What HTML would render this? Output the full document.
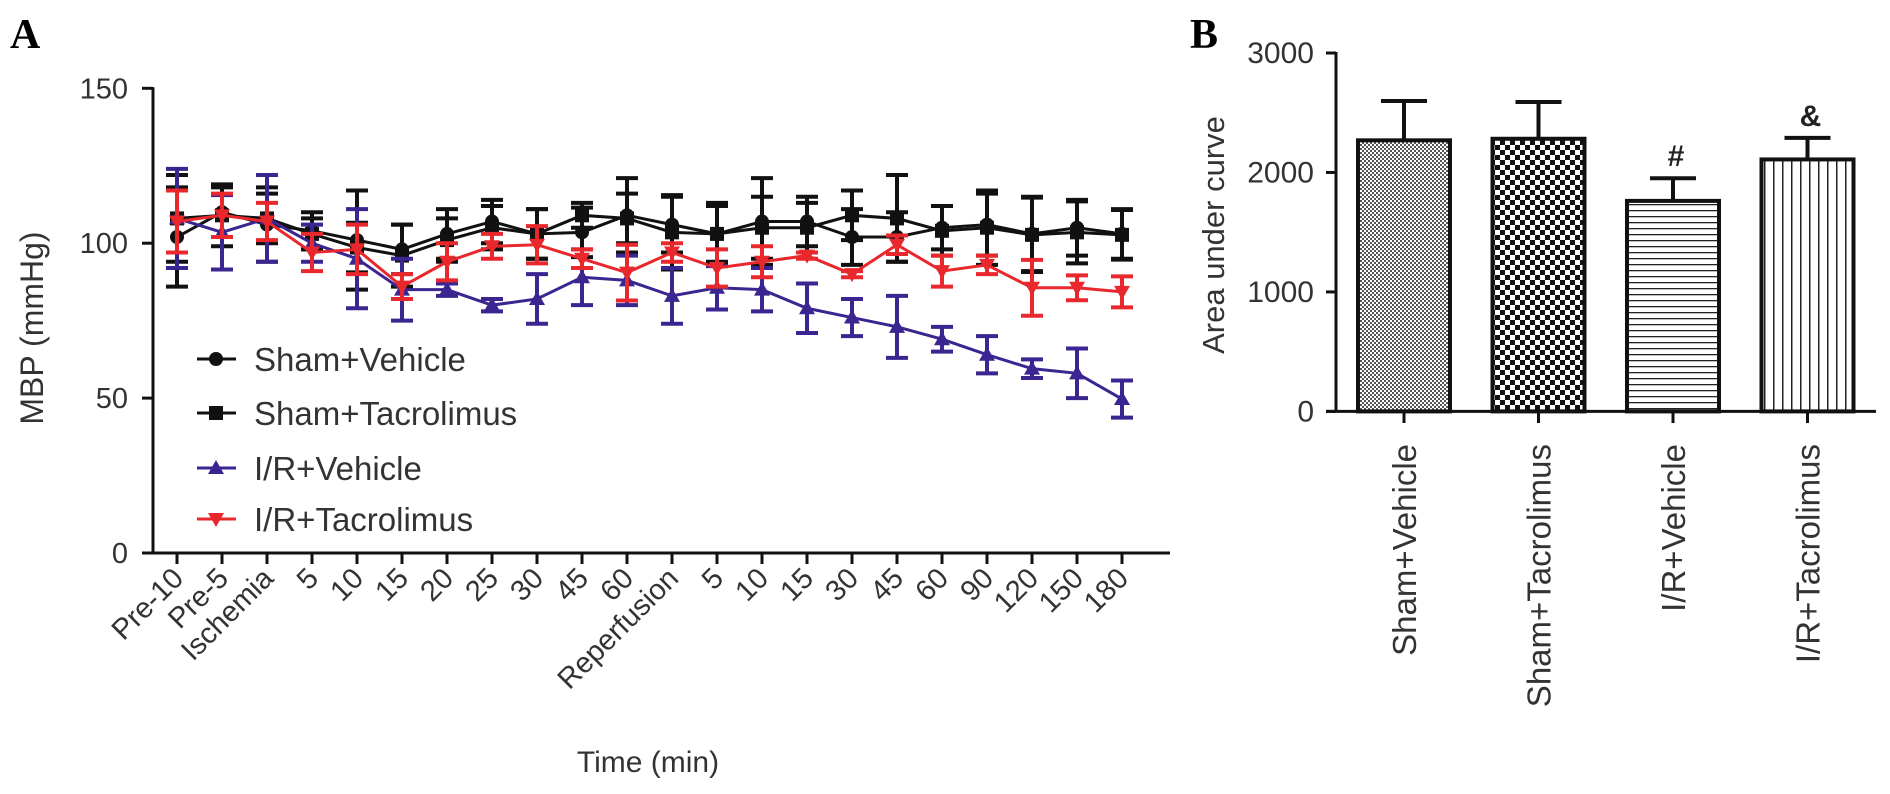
<!DOCTYPE html>
<html><head><meta charset="utf-8"><style>
html,body{margin:0;padding:0;background:#fff;}
svg{display:block;font-family:"Liberation Sans",Arial,sans-serif;}
</style></head><body>
<svg id="fig" width="1890" height="794" viewBox="0 0 1890 794" xmlns="http://www.w3.org/2000/svg">
<defs>
<pattern id="pDots" width="4" height="4" patternUnits="userSpaceOnUse"><rect width="4" height="4" fill="#fff"/><rect width="2" height="2" fill="#555"/><rect x="2" y="2" width="2" height="2" fill="#555"/></pattern>
<pattern id="pCheck" width="10" height="10" patternUnits="userSpaceOnUse"><rect width="10" height="10" fill="#fff"/><rect width="5" height="5" fill="#111"/><rect x="5" y="5" width="5" height="5" fill="#111"/></pattern>
<pattern id="pHoriz" width="6" height="6" patternUnits="userSpaceOnUse"><rect width="6" height="6" fill="#fff"/><rect y="0" width="6" height="1.3" fill="#222"/></pattern>
<pattern id="pVert" width="9" height="9" patternUnits="userSpaceOnUse"><rect width="9" height="9" fill="#fff"/><rect x="0" width="1.5" height="9" fill="#222"/></pattern>
</defs>
<text x="10" y="48" font-family="Liberation Serif,serif" font-weight="bold" font-size="42">A</text>
<text x="1190" y="48" font-family="Liberation Serif,serif" font-weight="bold" font-size="42">B</text>
<g id="gA"></g>
<g id="gB"></g>
</svg>
<script>
// ---- Panel A data ----
const timeLabels = ["Pre-10","Pre-5","Ischemia","5","10","15","20","25","30","45","60","Reperfusion","5","10","15","30","45","60","90","120","150","180"];
const yTicksA = [0,50,100,150];
const shamVeh = [102,110,106,104,101,98,103,107,103,103.5,109,106,103,107,107,102,102,105,106,103,105,103];
const shamVehErr = [16,8,12,6,16,8,8,7,8,8,12,9,10,14,8,9,8,7,10,12,9,8];
const shamTac = [108,109,108,103,98.6,96,101,105,103,109,108,103.5,103,105,105,109,108,104,105,102.7,103.5,102.7];
const shamTacErr = [14,10,8,5,8,10,7,7,8,4,8,12,9,10,8,8,14,8,12,12,10,8];
const irVeh = [108,103.5,108,100,95,85,85,80,82,89,88,83,85.6,85,79,76,73,69,64,59.5,58,49.7];
const irVehErr = [16,12,14,6,16,10,2,2,8,9,8,9,7,7,8,6,10,4,6,3,8,6];
const irTac = [107,109,107,97,98,86,94,99,99.5,95,90.5,97,92,94,96,90,99.5,91,93,85.6,85.6,84.3];
const irTacErr = [10,7,6,6,8,4,6,4,6,3,9,3,6,5,1,1,3,5,3,9,4,5];

// ---- Panel B data ----
const groups = ["Sham+Vehicle","Sham+Tacrolimus","I/R+Vehicle","I/R+Tacrolimus"];
const aucMean = [2269,2282,1762,2109];
const aucErr = [329,308,190,181];
const aucMarks = ["","","#","&"];
const yTicksB = [0,1000,2000,3000];

const NS="http://www.w3.org/2000/svg";
function el(tag, attrs, parent, text){const e=document.createElementNS(NS,tag);for(const k in attrs)e.setAttribute(k,attrs[k]);if(text!==undefined)e.textContent=text;parent.appendChild(e);return e;}

// ---- Panel A ----
const gA=document.getElementById('gA');
const xA=i=>177+i*45.0;
const yA=v=>553-v*3.098;
el('line',{x1:153,y1:yA(150)-1,x2:153,y2:553,stroke:'#111','stroke-width':3},gA);
el('line',{x1:153,y1:553,x2:1170,y2:553,stroke:'#111','stroke-width':3},gA);
yTicksA.forEach(t=>{
  const tk=el('line',{x1:142,y1:yA(t),x2:153,y2:yA(t),stroke:'#111','stroke-width':3},gA);
  
  
  const lb=el('text',{x:128,y:yA(t)+10,'text-anchor':'end','font-size':29,fill:'#333'},gA,String(t));
  
  
});
timeLabels.forEach((l,i)=>{
  const x=xA(i);
  const tk=el('line',{x1:x,y1:553,x2:x,y2:564,stroke:'#111','stroke-width':3},gA);
  
  
  const lb=el('text',{x:x+8,y:580,'text-anchor':'end','font-size':29,fill:'#333',transform:`rotate(-45 ${x+8} 580)`},gA,l);
  
  
});
const yt=el('text',{x:0,y:0,'text-anchor':'middle','font-size':32,fill:'#333',transform:'translate(43,328) rotate(-90)'},gA,'MBP (mmHg)');


const xt=el('text',{x:648,y:772,'text-anchor':'middle','font-size':30,fill:'#333'},gA,'Time (min)');



function marker(kind,x,y,color,parent){
  let m;
  if(kind==='circle') m=el('circle',{cx:x,cy:y,r:7,fill:color},parent);
  else if(kind==='square') m=el('rect',{x:x-7,y:y-7,width:14,height:14,fill:color},parent);
  else if(kind==='up') m=el('polygon',{points:`${x},${y-8} ${x-8},${y+6} ${x+8},${y+6}`,fill:color},parent);
  else m=el('polygon',{points:`${x},${y+8} ${x-8},${y-6} ${x+8},${y-6}`,fill:color},parent);
  return m;
}
const series=[
  {name:'Sham+Vehicle',v:shamVeh,e:shamVehErr,c:'#111',m:'circle',key:'sham-vehicle'},
  {name:'Sham+Tacrolimus',v:shamTac,e:shamTacErr,c:'#111',m:'square',key:'sham-tacrolimus'},
  {name:'I/R+Vehicle',v:irVeh,e:irVehErr,c:'#3b2590',m:'up',key:'ir-vehicle'},
  {name:'I/R+Tacrolimus',v:irTac,e:irTacErr,c:'#e8282c',m:'down',key:'ir-tacrolimus'}
];
series.forEach(s=>{
  const g=el('g',{},gA);
  
  
  s.v.forEach((v,i)=>{
    const x=xA(i),y1=yA(v+s.e[i]),y2=yA(v-s.e[i]);
    const eb=el('path',{d:`M${x},${y1}V${y2}M${x-11},${y1}H${x+11}M${x-11},${y2}H${x+11}`,stroke:s.c,'stroke-width':4,fill:'none'},g);
    
    
  });
  const pl=el('polyline',{points:s.v.map((v,i)=>xA(i)+','+yA(v)).join(' '),fill:'none',stroke:s.c,'stroke-width':3},g);
  
  
  s.v.forEach((v,i)=>{
    const mk=marker(s.m,xA(i),yA(v),s.c,g);
    
    
  });
});
const legY=[359,413,468,519];
series.forEach((s,k)=>{
  const g=el('g',{},gA);
  
  
  el('line',{x1:197,y1:legY[k],x2:236,y2:legY[k],stroke:s.c,'stroke-width':3},g);
  marker(s.m,216,legY[k],s.c,g);
  el('text',{x:254,y:legY[k]+12,'font-size':33,fill:'#333'},g,s.name);
});

// ---- Panel B ----
const gB=document.getElementById('gB');
const xB=i=>1404+i*134.5;
const yB=v=>411.4-v*0.11947;
const pats=['url(#pDots)','url(#pCheck)','url(#pHoriz)','url(#pVert)'];
el('line',{x1:1336,y1:yB(3000)-1,x2:1336,y2:411.4,stroke:'#111','stroke-width':3},gB);
el('line',{x1:1326,y1:411.4,x2:1876,y2:411.4,stroke:'#111','stroke-width':3},gB);
yTicksB.forEach(t=>{
  const tk=el('line',{x1:1326,y1:yB(t),x2:1336,y2:yB(t),stroke:'#111','stroke-width':3},gB);
  
  
  const lb=el('text',{x:1314,y:yB(t)+10,'text-anchor':'end','font-size':30,fill:'#333'},gB,String(t));
  
  
});
const ytb=el('text',{x:0,y:0,'text-anchor':'middle','font-size':31,fill:'#333',transform:'translate(1224,235) rotate(-90)'},gB,'Area under curve');


groups.forEach((gname,i)=>{
  const x=xB(i),w=92,top=yB(aucMean[i]),et=yB(aucMean[i]+aucErr[i]);
  const eb=el('path',{d:`M${x},${top}V${et}M${x-23},${et}H${x+23}`,stroke:'#111','stroke-width':4,fill:'none'},gB);
  
  
  const r=el('rect',{x:x-w/2,y:top,width:w,height:411.4-top,fill:pats[i],stroke:'#111','stroke-width':4},gB);
  
  
  const tk=el('line',{x1:x,y1:411.4,x2:x,y2:423,stroke:'#111','stroke-width':3},gB);
  
  
  const lb=el('text',{x:0,y:0,'text-anchor':'end','font-size':33,fill:'#333',transform:`translate(${x+12},444) rotate(-90)`},gB,gname);
  
  
  if(aucMarks[i]){
    const mk=el('text',{x:x+3,y:et-12,'text-anchor':'middle','font-size':30,'font-weight':'bold',fill:'#222'},gB,aucMarks[i]);
    
    
  }
});
</script>
</body></html>
